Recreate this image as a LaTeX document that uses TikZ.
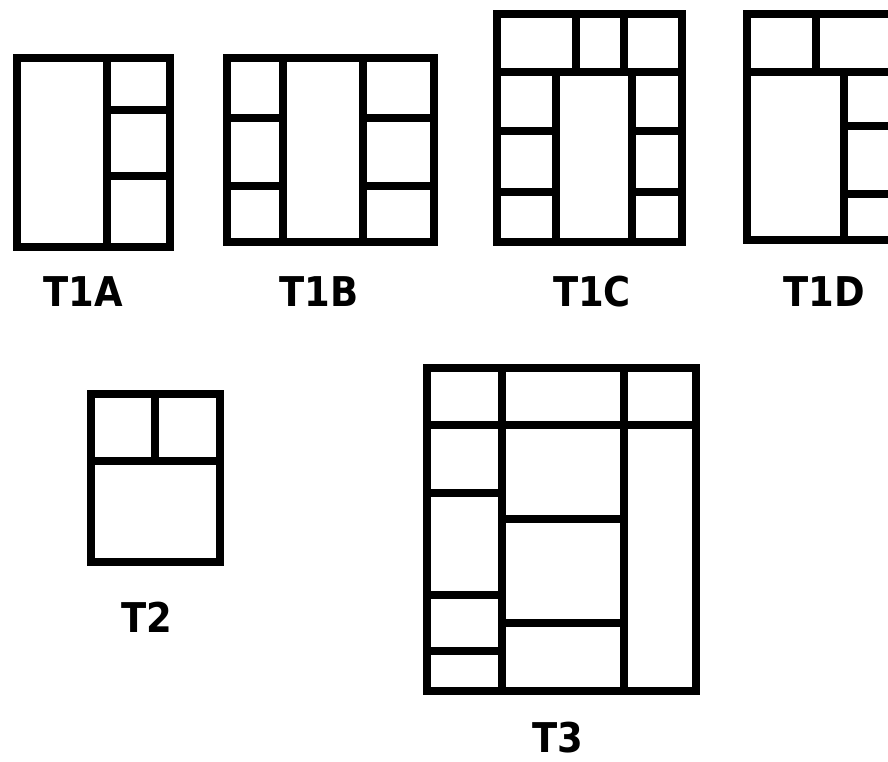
\documentclass[tikz,border=0pt]{standalone}
\usepackage{fontspec}
\setsansfont{DejaVu Sans Condensed}

\begin{document}
\begin{tikzpicture}[x=1pt, y=-1pt,
  frame/.style={draw=black, line width=8pt, line join=miter},
  wall/.style={draw=black, line width=8pt},
  tag/.style={font=\sffamily\bfseries\fontsize{41}{44}\selectfont, inner sep=0pt}
]
% ── Canvas ──
\useasboundingbox[fill=white] (0,0) rectangle (888,762);
\begin{scope}
\clip (0,0) rectangle (888,762);
% ── T1A ──
\draw[frame] (17,58) rectangle (169.5,246.5);
\draw[wall] (107,58) -- (107,246.5);
\draw[wall] (107,110) -- (169.5,110);
\draw[wall] (107,176) -- (169.5,176);
% ── T1B ──
\draw[frame] (227,58) rectangle (434,242);
\draw[wall] (283,58) -- (283,242);
\draw[wall] (363,58) -- (363,242);
\draw[wall] (227,118) -- (283,118);
\draw[wall] (227,186) -- (283,186);
\draw[wall] (363,118) -- (434,118);
\draw[wall] (363,186) -- (434,186);
% ── T1C ──
\draw[frame] (497,14) rectangle (682,242);
\draw[wall] (497,72) -- (682,72);
\draw[wall] (575.5,14) -- (575.5,72);
\draw[wall] (624,14) -- (624,72);
\draw[wall] (555.5,72) -- (555.5,242);
\draw[wall] (631.5,72) -- (631.5,242);
\draw[wall] (497,131.5) -- (555.5,131.5);
\draw[wall] (497,192) -- (555.5,192);
\draw[wall] (631.5,131.5) -- (682,131.5);
\draw[wall] (631.5,192) -- (682,192);
% ── T1D (runs off the right edge) ──
\draw[frame] (747,14) rectangle (905,239.5);
\draw[wall] (747,72) -- (905,72);
\draw[wall] (815.5,14) -- (815.5,72);
\draw[wall] (844,72) -- (844,239.5);
\draw[wall] (844,126) -- (905,126);
\draw[wall] (844,194) -- (905,194);
\end{scope}
% ── T2 ──
\draw[frame] (91,394) rectangle (219.5,562);
\draw[wall] (91,460.5) -- (219.5,460.5);
\draw[wall] (155,394) -- (155,460.5);
% ── T3 ──
\draw[frame] (427,368) rectangle (695.5,690.5);
\draw[wall] (427,424.5) -- (695.5,424.5);
\draw[wall] (501.5,368) -- (501.5,690.5);
\draw[wall] (624,368) -- (624,690.5);
\draw[wall] (427,492.5) -- (501.5,492.5);
\draw[wall] (427,594.5) -- (501.5,594.5);
\draw[wall] (427,650.5) -- (501.5,650.5);
\draw[wall] (501.5,518.5) -- (624,518.5);
\draw[wall] (501.5,622.5) -- (624,622.5);
% ── Labels ──
\node[tag] (t1a) at (83,292)  {T1A};
\node[tag] (t1b) at (319,292) {T1B};
\node[tag] (t1c) at (592,292) {T1C};
\node[tag] (t1d) at (824,292) {T1D};
\node[tag] (t2)  at (147,617) {T2};
\node[tag] (t3)  at (558,738) {T3};
\end{tikzpicture}
\end{document}
